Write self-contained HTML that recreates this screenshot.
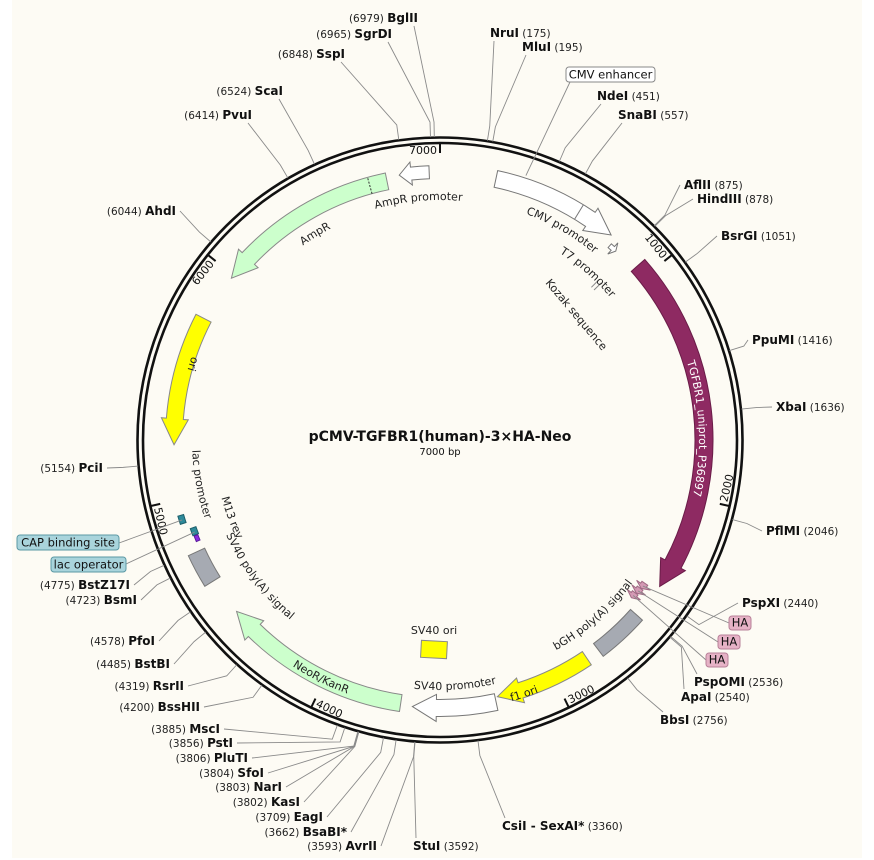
<!DOCTYPE html>
<html><head><meta charset="utf-8">
<style>
html,body{margin:0;padding:0;background:#fff;}
svg{display:block;font-family:"DejaVu Sans","Liberation Sans",sans-serif;}
</style></head>
<body>
<svg id="s" width="874" height="860" viewBox="0 0 874 860" xmlns="http://www.w3.org/2000/svg">
<rect x="12" y="0" width="850" height="858" fill="#FDFBF4"/>
<defs id="d"></defs>
<g id="g"></g>
</svg>
<script>
var NS="http://www.w3.org/2000/svg",CX=440,CY=440,T=7000;
var g=document.getElementById('g'),defs=document.getElementById('d');
function A(bp){return bp/T*360;}
function P(r,a){var t=a*Math.PI/180;return [CX+r*Math.sin(t),CY-r*Math.cos(t)];}
function el(n,at,par,txt){var e=document.createElementNS(NS,n);for(var k in at)e.setAttribute(k,at[k]);if(txt!=null)e.textContent=txt;(par||g).appendChild(e);return e;}
function f(p){return p[0].toFixed(2)+" "+p[1].toFixed(2);}
function arcArrow(r,w,b1,b2,head,fill,stroke){
  var a1=A(b1),a2=A(b2),s=a2>a1?1:-1,hd=head/r*180/Math.PI,aH=a2-s*hd;
  var ro=r+w/2,ri=r-w/2,lg=Math.abs(aH-a1)>180?1:0,sw=s>0?1:0;
  var d="M"+f(P(ro,a1))+" A"+ro+" "+ro+" 0 "+lg+" "+sw+" "+f(P(ro,aH));
  if(head>0){d+=" L"+f(P(ro+5,aH))+" L"+f(P(r,a2))+" L"+f(P(ri-5,aH))+" L"+f(P(ri,aH));}
  else d+=" L"+f(P(ri,aH));
  d+=" A"+ri+" "+ri+" 0 "+lg+" "+(1-sw)+" "+f(P(ri,a1))+" Z";
  el('path',{d:d,fill:fill,stroke:stroke||'#777','stroke-width':1});
}
var pid=0;
function arcText(r,c,txt,size,color,rev){
  var a1=A(c-1000),a2=A(c+1000),id='tp'+(pid++),d;
  if(!rev) d="M"+f(P(r,a1))+" A"+r+" "+r+" 0 0 1 "+f(P(r,a2));
  else d="M"+f(P(r,a2))+" A"+r+" "+r+" 0 0 0 "+f(P(r,a1));
  el('path',{id:id,d:d,fill:'none'},defs);
  var t=el('text',{'font-size':size,fill:color||'#222'});
  el('textPath',{href:'#'+id,startOffset:'50%','text-anchor':'middle'},t,txt);
}
el('circle',{cx:CX,cy:CY,r:302.5,fill:'none',stroke:'#111','stroke-width':2.6});
el('circle',{cx:CX,cy:CY,r:297,fill:'none',stroke:'#111','stroke-width':2.6});
for(var k=1;k<=7;k++){var bp=k*1000,a=A(bp%7000);
  el('line',{x1:P(296,a)[0],y1:P(296,a)[1],x2:P(287,a)[0],y2:P(287,a)[1],stroke:'#111','stroke-width':2});
  var flip=(a>90&&a<270),rr=flip?294:286,p=P(rr,a);
  var rot=flip?a-180:a;
  el('text',{'font-size':11,fill:'#111','text-anchor':flip?'start':'end',transform:'translate('+p[0]+','+p[1]+') rotate('+rot+') translate('+(flip?3:-3)+',0)'},null,String(bp));
}
arcArrow(267,17,235,775,26,'#fff','#777');
(function(){var a=A(610);el('line',{x1:P(258.5,a)[0],y1:P(258.5,a)[1],x2:P(275.5,a)[0],y2:P(275.5,a)[1],stroke:'#777'});})();
arcArrow(258,5,800,835,4,'#fff','#777');
(function(){var a=A(880);[-1,1].forEach(function(o){var p1=P(215,a+o*0.5),p2=P(225,a+o*0.5);el('line',{x1:p1[0],y1:p1[1],x2:p2[0],y2:p2[1],stroke:'#888'});});})();
arcArrow(264,18,945,2405,26,'#8E2A62','#6a1c48');
[2430,2460,2490].forEach(function(b,i){arcArrow(250-i*1,7,b,b+28,4,'#D49AB4','#a06a84');});
arcArrow(263,16,2560,2780,0,'#A6AAB2','#777');
arcArrow(263,16,2840,3255,24,'#FFFF00','#888');
arcArrow(268,17,3265,3615,24,'#fff','#777');
arcArrow(266,17,3665,4470,26,'#CCFFCC','#888');
arcArrow(268,18,4630,4770,0,'#A6AAB2','#777');
arcArrow(270,6,4900,4935,0,'#2E8A9A','#1d5f6a');
arcArrow(262,6,4838,4870,0,'#2E8A9A','#1d5f6a');
arcArrow(262,4,4810,4835,0,'#8A2BE2','#5a1a9a');
arcArrow(266,17,5780,5230,26,'#FFFF00','#888');
arcArrow(264,17,6775,5985,26,'#CCFFCC','#888');
(function(){var a=A(6700);el('line',{x1:P(255.5,a)[0],y1:P(255.5,a)[1],x2:P(272.5,a)[0],y2:P(272.5,a)[1],stroke:'#333','stroke-dasharray':'2,1.5'});})();
arcArrow(268,13,6955,6830,12,'#fff','#777');
el('rect',{x:421,y:641,width:26,height:17,fill:'#FFFF00',stroke:'#888',transform:'rotate(3 434 649)'});
el('text',{x:434,y:634,'font-size':11,fill:'#222','text-anchor':'middle'},null,'SV40 ori');
arcText(240,6900,'AmpR promoter',11,'#222');
arcText(238,6393,'AmpR',11,'#222');
arcText(242,587,'CMV promoter',11,'#222');
arcText(222,805,'T7 promoter',11,'#222');
arcText(259,1700,'TGFBR1_uniprot_P36897',11,'#fff');
arcText(271,3144,'f1 ori',11,'#222',true);
arcText(240,2700,'bGH poly(A) signal',11,'#222',true);
arcText(250,3432,'SV40 promoter',11,'#222',true);
arcText(270,4017,'NeoR/KanR',11,'#222',true);
arcText(234,4529,'SV40 poly(A) signal',11,'#222',true);
arcText(248,5046,'lac promoter',11,'#222',true);
arcText(226,4853,'M13 rev',11,'#222',true);
arcText(262,5582,'ori',11,'#222',true);
el('text',{'font-size':11,fill:'#222',transform:'translate(545,283) rotate(50)'},null,'Kozak sequence');
el('text',{x:440,y:441,'font-size':14,'font-weight':'bold',fill:'#111','text-anchor':'middle'},null,'pCMV-TGFBR1(human)-3×HA-Neo');
el('text',{x:440,y:455,'font-size':10,fill:'#111','text-anchor':'middle'},null,'7000  bp');
var L=[[6979,'BglII',418,22,'t'],[6965,'SgrDI',392,38,'t'],[6848,'SspI',345,58,'t'],[6524,'ScaI',283,95,'t'],[6414,'PvuI',252,119,'t'],[6044,'AhdI',176,215],[5154,'PciI',103,472],[4775,'BstZ17I',130,589],[4723,'BsmI',137,604],[4578,'PfoI',155,645],[4485,'BstBI',170,668],[4319,'RsrII',184,690],[4200,'BssHII',200,711],[3885,'MscI',220,733],[3856,'PstI',233,747],[3806,'PluTI',248,762],[3804,'SfoI',264,777],[3803,'NarI',282,791],[3802,'KasI',300,806],[3709,'EagI',323,821],[3662,'BsaBI*',347,836],[3593,'AvrII',377,850]];
var R=[[175,'NruI',490,37,'t'],[195,'MluI',522,51,'t'],[451,'NdeI',597,100,'t'],[557,'SnaBI',618,119,'t'],[875,'AflII',684,189],[878,'HindIII',697,203],[1051,'BsrGI',721,240],[1416,'PpuMI',752,344],[1636,'XbaI',776,411],[2046,'PflMI',766,535],[2440,'PspXI',742,607],[2536,'PspOMI',694,686,'b'],[2540,'ApaI',681,701,'b'],[2756,'BbsI',660,724,'b'],[3360,'CsiI - SexAI*',502,830,'b'],[3592,'StuI',413,850,'b']];
function lead(bp,x,y){var a=A(bp),p1=P(303,a),p2=P(318,a);
  el('polyline',{points:f(p1)+" "+f(p2)+" "+x+" "+y,fill:'none',stroke:'#8a8a8a','stroke-width':0.9});}
L.forEach(function(s){
  var t=el('text',{x:s[2],y:s[3],'text-anchor':'end',fill:'#111'});
  el('tspan',{'font-size':10.5,fill:'#222'},t,'('+s[0]+')  ');
  el('tspan',{'font-size':12,'font-weight':'bold'},t,s[1]);
  if(s[4]=='t') lead(s[0],s[2]-4,s[3]+4); else lead(s[0],s[2]+4,s[3]-4);
});
R.forEach(function(s){
  var t=el('text',{x:s[2],y:s[3],'text-anchor':'start',fill:'#111'});
  el('tspan',{'font-size':12,'font-weight':'bold'},t,s[1]);
  el('tspan',{'font-size':10.5,fill:'#222'},t,'  ('+s[0]+')');
  if(s[4]=='t') lead(s[0],s[2]+4,s[3]+4); else if(s[4]=='b') lead(s[0],s[2]+3,s[3]-12); else lead(s[0],s[2]-4,s[3]-4);
});
function box(x,y,w,h,txt,fill,stroke,bp,r,lx,ly){
  var p=P(r,A(bp));el('line',{x1:p[0],y1:p[1],x2:lx,y2:ly,stroke:'#8a8a8a','stroke-width':0.9});
  el('rect',{x:x,y:y,width:w,height:h,rx:3,fill:fill,stroke:stroke});
  el('text',{x:x+w/2,y:y+h-3.5,'font-size':11.5,fill:'#111','text-anchor':'middle'},null,txt);
}
box(566,67,89,15,'CMV enhancer','#fff','#888',350,278,570,82);
box(17,535,102,15,'CAP binding site','#A9D4DC','#5b98a4',4915,270,119,543);
box(51,557,75,15,'lac operator','#A9D4DC','#5b98a4',4850,262,126,564);
box(729,616,22,14,'HA','#E6B2C6','#b88098',2445,250,729,623);
box(718,635,22,14,'HA','#E6B2C6','#b88098',2475,249,718,642);
box(706,653,22,14,'HA','#E6B2C6','#b88098',2505,248,706,660);
</script>
</body></html>
